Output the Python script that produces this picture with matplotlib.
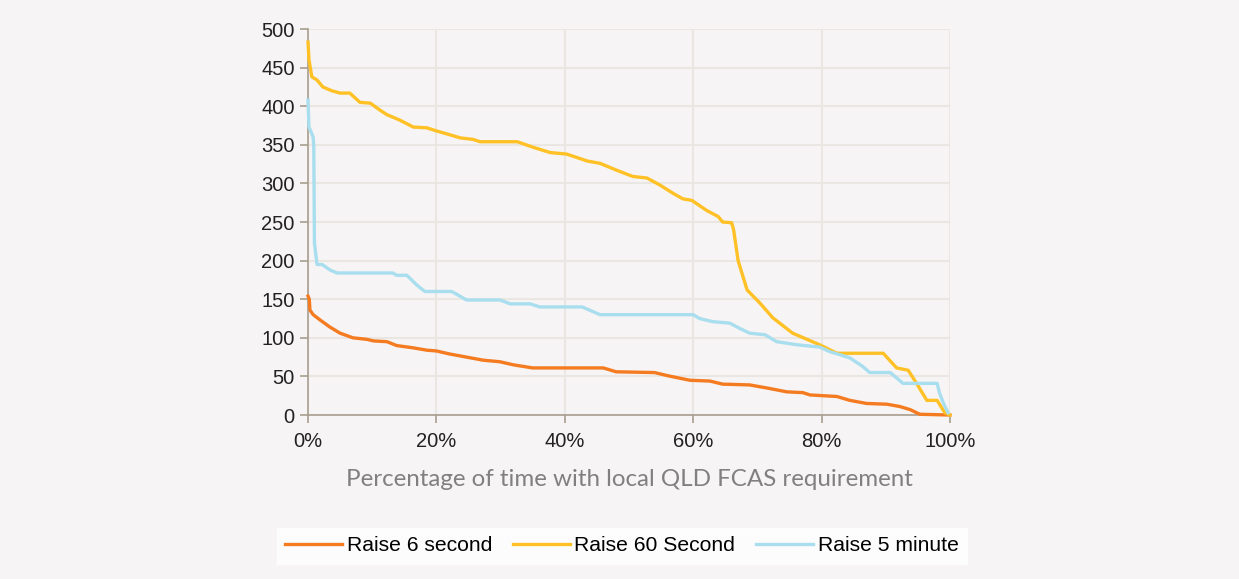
import numpy as np
import matplotlib.pyplot as plt
from matplotlib.ticker import FuncFormatter

# values (x in % of time, y in MW)
r6_x = [0, 0.2, 0.3, 0.8, 1.9, 3.4, 5.0, 7.0, 9.2, 10.2, 12.3, 13.8, 16.4, 18.5, 20.0, 22.1,
        24.7, 27.3, 29.9, 32.0, 35.0, 46.0, 48.0, 54.0, 56.0, 59.5, 62.6, 64.6, 68.8, 71.5,
        74.6, 77.1, 78.2, 82.4, 84.4, 87.0, 90.2, 92.2, 93.8, 95.3, 100.0]
r6_y = [154, 150, 136, 130, 123, 114, 106, 100, 98, 96, 95, 90, 87, 84, 83, 79,
        75, 71, 69, 65, 61, 61, 56, 55, 51, 45, 44, 40, 39, 35,
        30, 29, 26, 24, 19, 15, 14, 11, 7, 1, 0]

r60_x = [0, 0.15, 0.6, 1.4, 2.3, 3.7, 5.0, 6.5, 8.1, 9.7, 11.2, 12.3, 14.3, 16.4, 18.5, 20.0,
         22.1, 23.7, 25.7, 26.8, 32.6, 35.0, 37.7, 40.3, 43.5, 45.5, 48.1, 50.6, 52.8, 54.8,
         56.9, 58.4, 59.8, 62.1, 63.9, 64.6, 66.0, 66.3, 67.0, 68.4, 70.4, 72.4, 75.5, 79.7,
         82.4, 89.6, 91.7, 93.5, 94.8, 96.4, 98.0, 99.2, 100.0]
r60_y = [483, 460, 438, 434, 425, 420, 417, 417, 405, 404, 395, 389, 382, 373, 372, 368,
         363, 359, 357, 354, 354, 347, 340, 338, 329, 326, 317, 309, 307, 298,
         287, 280, 278, 265, 257, 250, 249, 240, 200, 162, 145, 126, 106, 91,
         80, 80, 61, 58, 41, 19, 19, 3, 0]

r5_x = [0, 0.15, 0.8, 0.9, 1.0, 1.4, 2.2, 3.4, 4.5, 13.2, 13.8, 15.4, 17.0, 18.2, 22.4, 24.7,
        29.9, 31.5, 34.6, 36.1, 42.7, 45.5, 60.0, 61.0, 63.0, 65.7, 67.3, 68.8, 71.2, 73.0,
        76.2, 79.7, 81.3, 82.9, 84.4, 86.4, 87.5, 90.7, 92.7, 98.0, 98.4, 99.0, 99.7]
r5_y = [408, 373, 360, 347, 223, 195, 195, 188, 184, 184, 181, 181, 168, 160, 160, 149,
        149, 144, 144, 140, 140, 130, 130, 125, 121, 119, 112, 106, 104, 95,
        91, 88, 82, 78, 74, 63, 55, 55, 41, 41, 28, 15, 3]

series = [
    ("Raise 6 second", r6_x, r6_y, "#F47B20"),
    ("Raise 60 Second", r60_x, r60_y, "#FFC125"),
    ("Raise 5 minute", r5_x, r5_y, "#A9DEEE"),
]

bg = "#F6F4F5"
spine_col = "#A89E90"
plt.rcParams['font.family'] = ['Liberation Sans', 'DejaVu Sans']

fig = plt.figure(figsize=(12.39, 5.79), dpi=100, facecolor=bg)
ax = fig.add_axes([0.2486, 0.2832, 0.5181, 0.6667])
ax.set_facecolor(bg)

for name, xs, ys, col in series:
    ax.plot(np.array(xs) / 100, ys, color=col, lw=2.4, label=name,
            solid_joinstyle='round', clip_on=False, zorder=3)

ax.set_xlim(0, 1)
ax.set_ylim(0, 500)
ax.set_xticks(np.arange(0, 1.01, 0.2))
ax.set_yticks(np.arange(0, 501, 50))
ax.xaxis.set_major_formatter(FuncFormatter(lambda v, p: f"{v*100:.0f}%"))
ax.grid(True, color="#EAE6E2", lw=1.5)
ax.set_axisbelow(True)

for s in ["top", "right"]:
    ax.spines[s].set_visible(False)
for s in ["left", "bottom"]:
    ax.spines[s].set_color(spine_col)
    ax.spines[s].set_linewidth(1.2)
    ax.spines[s].set_zorder(2)
ax.tick_params(colors=spine_col, length=6, width=1.2, labelsize=14.5, labelcolor="#222222")
ax.tick_params(axis='x', pad=6)

ax.set_xlabel("Percentage of time with local QLD FCAS requirement",
              family=["Lato", "DejaVu Sans"], fontsize=17.4, color="#808080", labelpad=13)

fig.legend(loc="center", bbox_to_anchor=(0.502, 0.057), ncol=3, fontsize=15.2,
           frameon=True, facecolor="white", edgecolor="white", fancybox=False,
           handlelength=2.7, handletextpad=0.2, columnspacing=1.0, borderpad=0.4)

fig.savefig("out.png", dpi=100, facecolor=bg)
